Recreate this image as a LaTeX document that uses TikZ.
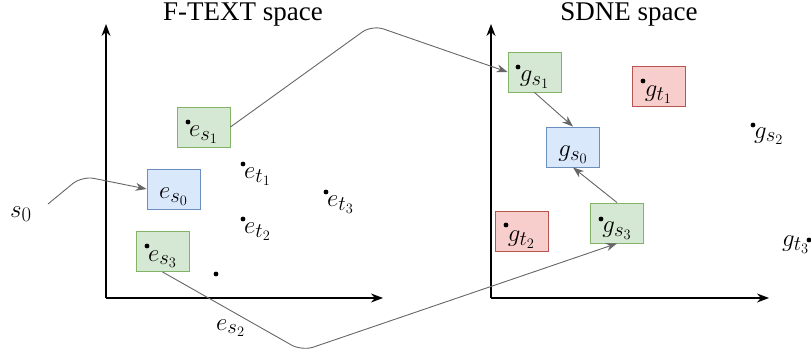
\documentclass[tikz,border=0pt]{standalone}
\usepackage{fontspec}
\setmainfont{Liberation Serif}
\usetikzlibrary{arrows.meta, positioning}

\definecolor{okfill}{HTML}{D5E8D4}
\definecolor{okline}{HTML}{82B366}
\definecolor{srcfill}{HTML}{DAE8FC}
\definecolor{srcline}{HTML}{6C8EBF}
\definecolor{badfill}{HTML}{F8CECC}
\definecolor{badline}{HTML}{B85450}
\definecolor{linkgray}{HTML}{666666}

\tikzset{
  ptbox/.style={draw, line width=0.9pt, minimum width=53, minimum height=40, inner sep=0pt,
    text height=21, text depth=2},
  okbox/.style={ptbox, fill=okfill, draw=okline},
  srcbox/.style={ptbox, fill=srcfill, draw=srcline},
  badbox/.style={ptbox, fill=badfill, draw=badline},
  axis/.style={line width=1.3pt, -{Stealth[length=12pt,width=9pt]}},
  link/.style={draw=linkgray, line width=0.9pt, rounded corners=12pt, -{Stealth[length=11pt,width=8pt]}},
  ptlabel/.style={anchor=base west, inner sep=0pt},
  title/.style={anchor=base, font=\fontsize{27}{31}\selectfont},
}

\begin{document}
\begin{tikzpicture}[x=1pt,y=-1pt,font=\fontsize{28}{32}\selectfont]
  \useasboundingbox (0,0) rectangle (811,361);

  % the two spaces
  \draw[axis] (106,298) -- (106,24);
  \draw[axis] (106,298) -- (383,298);
  \node[title] (ftitle) at (243,21) {F-TEXT space};

  \draw[axis] (491,298) -- (491,24);
  \draw[axis] (491,298) -- (769,298);
  \node[title] (stitle) at (629,21) {SDNE space};

  % F-TEXT points
  \node[okbox]  (es1) at (203.5,127) {$e_{s_1}$};
  \node[srcbox] (es0) at (173.5,189) {$e_{s_0}$};
  \node[okbox]  (es3) at (162.5,251.5) {$e_{s_3}$};
  \fill (188,122) circle (2.4);
  \fill (147,246) circle (2.4);

  \fill (243,164) circle (2.4);
  \node[ptlabel] (et1) at (244,178) {$e_{t_1}$};
  \fill (243,219) circle (2.4);
  \node[ptlabel] (et2) at (244,233) {$e_{t_2}$};
  \fill (326,192) circle (2.4);
  \node[ptlabel] (et3) at (327,206) {$e_{t_3}$};
  \fill (216,274) circle (2.4);
  \node[ptlabel] (es2) at (216,330) {$e_{s_2}$};

  \node[ptlabel] (s0) at (10,217) {$s_0$};

  % SDNE points
  \node[okbox]  (gs1) at (534.5,72) {$g_{s_1}$};
  \node[badbox] (gt1) at (658.5,86.5) {$g_{t_1}$};
  \node[srcbox] (gs0) at (573,147) {$g_{s_0}$};
  \node[okbox]  (gs3) at (617,223) {$g_{s_3}$};
  \node[badbox] (gt2) at (521.5,231.5) {$g_{t_2}$};
  \fill (518,67) circle (2.4);
  \fill (643,81) circle (2.4);
  \fill (601,219) circle (2.4);
  \fill (506,225) circle (2.4);

  \fill (753,125) circle (2.4);
  \node[ptlabel] (gs2) at (754,138) {$g_{s_2}$};
  \node[ptlabel] (gt3) at (782,246) {$g_{t_3}$};
  \fill (809,240) circle (2.4);

  % links
  \coordinate (s0out) at (48,204);
  \coordinate (bendA) at (82,176);
  \coordinate (bendB) at (372,25);
  \coordinate (bendC) at (302,351);
  \draw[link] (s0out) -- (bendA) -- (es0.west);
  \draw[link] (es1.east) -- (bendB) -- (gs1.west);
  \draw[link] (es3.south) -- (bendC) -- (gs3.south);
  \draw[link] (gs1.south) -- (gs0.north);
  \draw[link] (gs3.north) -- (gs0.south);
\end{tikzpicture}
\end{document}
